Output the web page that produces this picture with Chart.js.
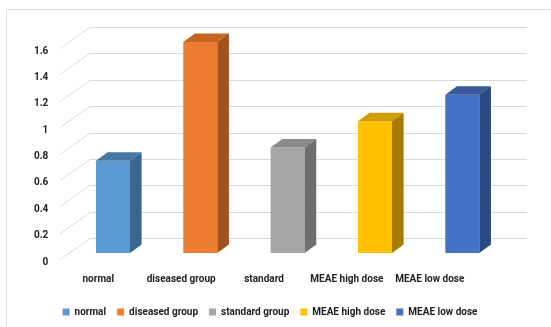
<!DOCTYPE html>
<html>
<head>
<meta charset="utf-8">
<script src="https://cdn.jsdelivr.net/npm/chart.js@4/dist/chart.umd.min.js"></script>
<style>
  body { margin: 0; background: #fff; }
  #wrap { width: 551px; height: 327px; position: relative; }
</style>
</head>
<body>
<div id="wrap"><canvas id="myChart" width="551" height="327"></canvas></div>
<script>
var categories = ["normal", "diseased group", "standard", "MEAE high dose", "MEAE low dose"];
var seriesNames = ["normal", "diseased group", "standard group", "MEAE high dose", "MEAE low dose"];
var values = [0.7, 1.6, 0.8, 1.0, 1.2];
var yTicks = [0, 0.2, 0.4, 0.6, 0.8, 1, 1.2, 1.4, 1.6];

var frontColors = ["#5B9BD5", "#ED7D31", "#A5A5A5", "#FFC000", "#4472C4"];
var topColors = ["#4677a6", "#c5641f", "#8a8a8a", "#d19e00", "#35599a"];
var sideColors = ["#3b6690", "#a3531c", "#6e6e6e", "#a67c00", "#2b4a80"];

var FONT = "Roboto, 'Liberation Sans', sans-serif";

// one dataset per group, null elsewhere so each bar sits in its own category
var datasets = seriesNames.map(function(name, i) {
  return {
    label: name,
    data: categories.map(function(c, j) { return j === i ? values[i] : null; }),
    backgroundColor: frontColors[i],
    borderWidth: 0,
    skipNull: true,
    barPercentage: 0.39,
    categoryPercentage: 1
  };
});

var depth = { dx: 11.6, dy: -8.5 };

var frame3d = {
  id: 'frame3d',
  beforeDraw: function(chart) {
    var c = chart.ctx;
    c.save();
    c.strokeStyle = '#d9d9d9';
    c.lineWidth = 1;
    c.beginPath();
    c.moveTo(6.5, 327);
    c.lineTo(6.5, 9.5);
    c.lineTo(551, 9.5);
    c.stroke();
    c.restore();
  },
  beforeDatasetsDraw: function(chart) {
    var c = chart.ctx, a = chart.chartArea, ys = chart.scales.y;
    c.save();
    c.strokeStyle = '#d9d9d9';
    c.lineWidth = 1;
    yTicks.forEach(function(v) {
      var yv = Math.round(ys.getPixelForValue(v)) + 0.5;
      c.beginPath();
      c.moveTo(a.left - 9.3, yv + 6);
      c.lineTo(a.left + 20.7, yv - 15);
      c.lineTo(a.right + 20.8, yv - 15);
      c.stroke();
    });
    c.restore();
  },
  afterDatasetsDraw: function(chart) {
    var c = chart.ctx;
    c.save();
    chart.data.datasets.forEach(function(ds, i) {
      chart.getDatasetMeta(i).data.forEach(function(bar, j) {
        if (ds.data[j] == null) return;
        var p = bar.getProps(['x', 'y', 'base', 'width'], true);
        var l = p.x - p.width / 2, r = p.x + p.width / 2, t = p.y, b = p.base;
        c.fillStyle = topColors[i];
        c.beginPath();
        c.moveTo(l, t);
        c.lineTo(l + depth.dx, t + depth.dy);
        c.lineTo(r + depth.dx, t + depth.dy);
        c.lineTo(r, t);
        c.closePath();
        c.fill();
        c.fillStyle = sideColors[i];
        c.beginPath();
        c.moveTo(r, t);
        c.lineTo(r + depth.dx, t + depth.dy);
        c.lineTo(r + depth.dx, b + depth.dy);
        c.lineTo(r, b);
        c.closePath();
        c.fill();
      });
    });
    c.restore();
  }
};

var ctx = document.getElementById("myChart");

var myChart = new Chart(ctx, {
  type: 'bar',
  data: {
    labels: categories,
    datasets: datasets
  },
  plugins: [frame3d],
  options: {
    responsive: false,
    animation: false,
    layout: {
      padding: { left: 34, right: 45, top: 42, bottom: 0 }
    },
    plugins: {
      tooltip: { enabled: false },
      legend: {
        position: 'bottom',
        labels: {
          boxWidth: 7,
          boxHeight: 7,
          padding: 11,
          color: '#222',
          font: { family: FONT, size: 10, weight: 'bold' }
        }
      }
    },
    scales: {
      x: {
        display: false
      },
      // label axis: group names sit slightly left of the bars, along the floor edge
      xl: {
        type: 'linear',
        position: 'bottom',
        offset: false,
        min: -0.35,
        max: 4.92,
        grid: { display: false, drawTicks: false },
        border: { display: false },
        afterBuildTicks: function(s) {
          s.ticks = categories.map(function(c, i) { return { value: i }; });
        },
        afterFit: function(s) { s.height = 43; },
        ticks: {
          autoSkip: false,
          maxRotation: 0,
          padding: 20,
          color: '#222',
          font: { family: FONT, size: 10, weight: 'bold' },
          callback: function(v) { return categories[v]; }
        }
      },
      y: {
        min: 0,
        max: 1.6,
        grid: { display: false, drawTicks: false },
        border: { display: false },
        afterBuildTicks: function(s) {
          s.ticks = yTicks.map(function(v) { return { value: v }; });
        },
        afterFit: function(s) { s.width = 35.3; },
        ticks: {
          padding: 21,
          labelOffset: 9,
          color: '#222',
          font: { family: FONT, size: 10, weight: 'bold' },
          callback: function(v) { return String(+v.toFixed(1)); }
        }
      }
    }
  }
});
</script>
</body>
</html>
